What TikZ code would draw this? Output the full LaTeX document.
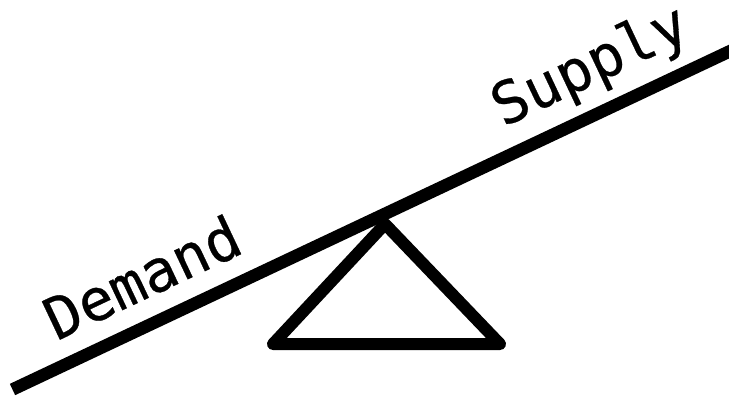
\documentclass[tikz,border=0pt]{standalone}
\usepackage{fontspec}
\newfontfamily\monofont[FakeBold=0.5]{DejaVu Sans Mono}
\begin{document}
\begin{tikzpicture}[x=1pt,y=-1pt,
  beam/.style={line width=12.5pt, line cap=butt},
  fulcrum/.style={line width=12pt, line join=round, line cap=round},
  lbl/.style={font=\monofont\fontsize{58}{68}\selectfont, inner sep=0pt, rotate=25.3}]
\useasboundingbox (0,0) rectangle (729,396);
\clip (0,0) rectangle (729,396);
\coordinate (L) at (12.5,389.5);
\coordinate (R) at (760,37);
\draw[beam] (L) -- (R);
\coordinate (A) at (385,224);
\coordinate (B) at (273,344);
\coordinate (C) at (500,344);
\draw[fulcrum] (A) -- (B) -- (C) -- cycle;
\node[lbl] (dem) at (142,277) {Demand};
\node[lbl] (sup) at (591,68) {Supply};
\end{tikzpicture}
\end{document}
